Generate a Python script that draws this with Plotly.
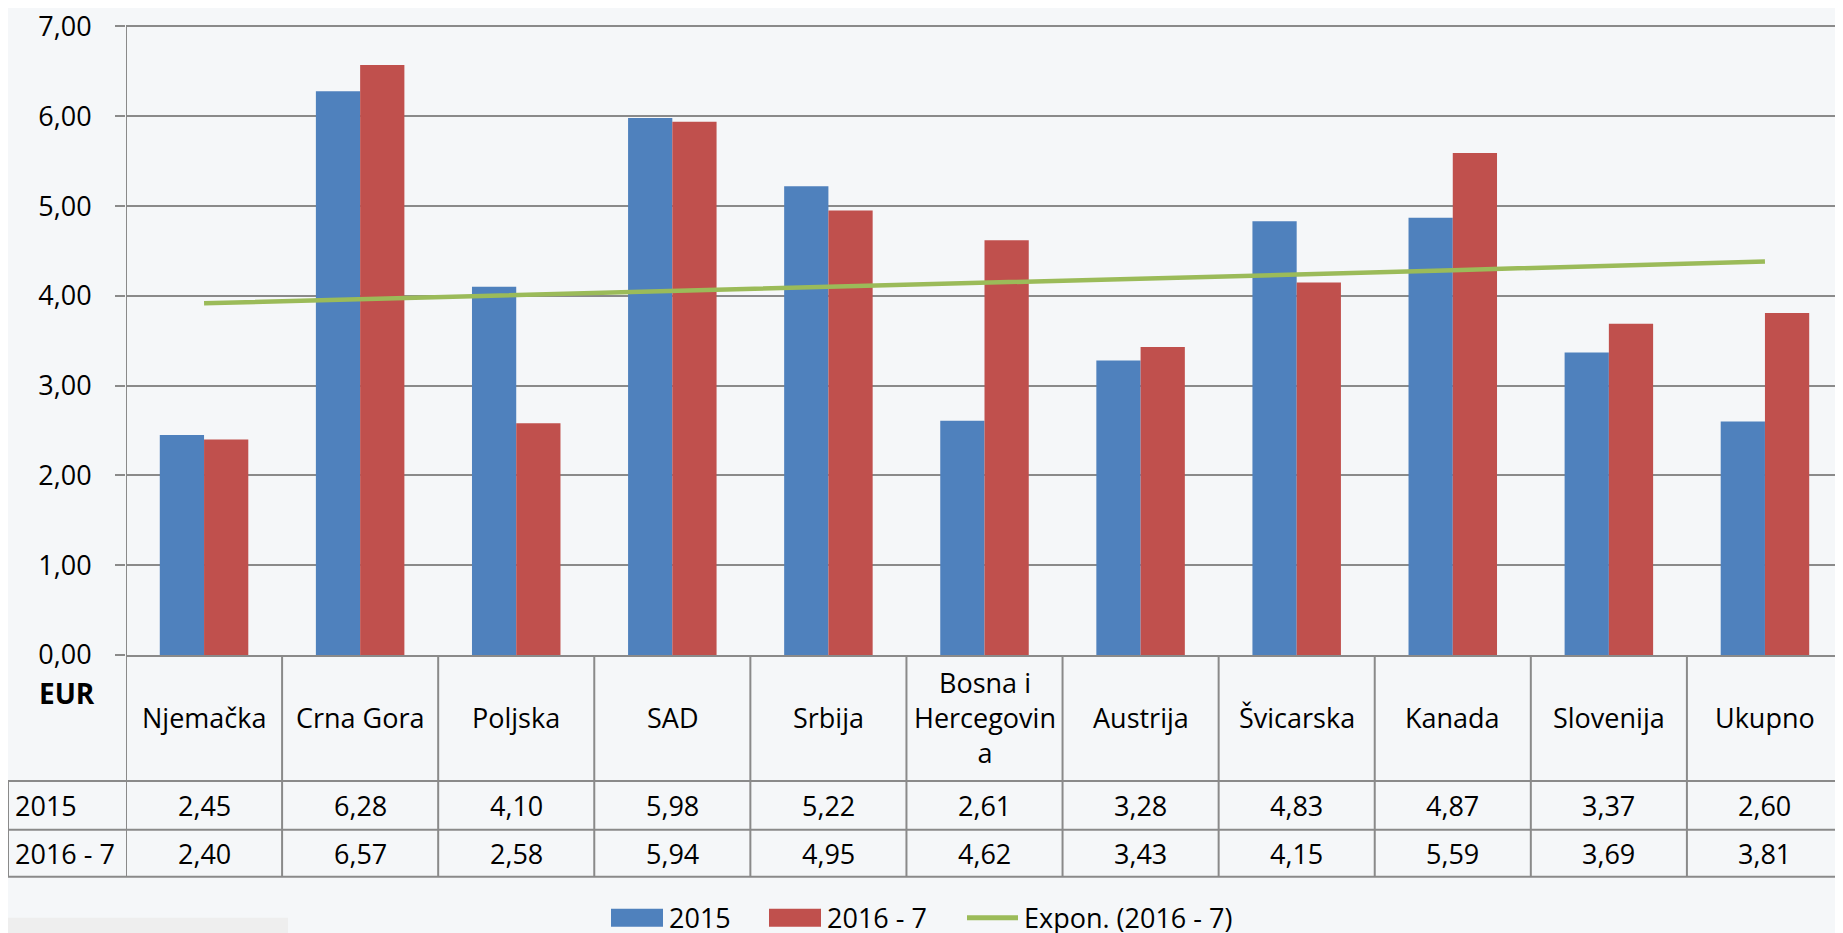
# Prosječna cijena po kategorijama - stupci s tablicom podataka ispod osi
import numpy as np
import plotly.graph_objects as go

W, H = 1843, 933
PAGE_OFFSET = 8          # default body margin of the html page
Y_MAX = 7
HEADROOM = 0.05          # a little room above 7,00 so its gridline is drawn
LEFT, RIGHT, GRID_TOP, ZERO_Y = 126, 1843, 26, 655   # screen pixels
TOP = GRID_TOP - HEADROOM * (ZERO_Y - GRID_TOP) / Y_MAX

categories = ["Njemačka", "Crna Gora", "Poljska", "SAD", "Srbija",
              "Bosna i Hercegovina", "Austrija", "Švicarska", "Kanada",
              "Slovenija", "Ukupno"]
header_labels = ["Njemačka", "Crna Gora", "Poljska", "SAD", "Srbija",
                 "Bosna i<br>Hercegovin<br>a", "Austrija", "Švicarska", "Kanada",
                 "Slovenija", "Ukupno"]
series_names = ["2015", "2016 - 7"]
trend_name = "Expon. (2016 - 7)"
values_2015 = [2.45, 6.28, 4.10, 5.98, 5.22, 2.61, 3.28, 4.83, 4.87, 3.37, 2.60]
values_2016_7 = [2.40, 6.57, 2.58, 5.94, 4.95, 4.62, 3.43, 4.15, 5.59, 3.69, 3.81]
y_ticks = [0, 1, 2, 3, 4, 5, 6, 7]

BLUE = "#4F81BD"
RED = "#C0504D"
GREEN = "#9BBB59"
GRID = "#8a8a8a"
FONT = "Open Sans, Noto Sans, sans-serif"


def px_x(sx):
    """screen pixel -> paper x"""
    return (sx - LEFT) / (RIGHT - LEFT)


def px_y(sy):
    """screen pixel -> paper y"""
    return (ZERO_Y - sy) / (ZERO_Y - TOP)


def fmt(v):
    return f"{v:.2f}".replace(".", ",")


# Excel-style exponential trendline on the 2016 - 7 series
idx = np.arange(1, len(values_2016_7) + 1)
b, a = np.polyfit(idx, np.log(values_2016_7), 1)
trend = np.exp(a + b * idx)

fig = go.Figure()
fig.add_trace(go.Bar(x=categories, y=values_2015, name=series_names[0],
                     marker=dict(color=BLUE, line=dict(width=0))))
fig.add_trace(go.Bar(x=categories, y=values_2016_7, name=series_names[1],
                     marker=dict(color=RED, line=dict(width=0))))
fig.add_trace(go.Scatter(x=categories, y=trend, mode="lines", name=trend_name,
                         line=dict(color=GREEN, width=4.5)))

# table grid
row1_top, row2_top, table_bottom = 781, 830, 877
shapes = []
line = dict(color=GRID, width=2)
for sy in (row1_top, row2_top, table_bottom):
    shapes.append(dict(type="line", xref="paper", yref="paper",
                       x0=px_x(8), x1=1, y0=px_y(sy), y1=px_y(sy), line=line))
shapes.append(dict(type="line", xref="paper", yref="paper",
                   x0=px_x(8), x1=px_x(8), y0=px_y(row1_top), y1=px_y(table_bottom), line=line))
for i in range(len(categories)):
    x_edge = i - 0.5
    shapes.append(dict(type="line", xref="x", yref="paper",
                       x0=x_edge, x1=x_edge, y0=px_y(GRID_TOP) if i == 0 else 0,
                       y1=px_y(table_bottom), line=line))
# grey strip in the lower-left corner
shapes.append(dict(type="rect", xref="paper", yref="paper", layer="below",
                   x0=px_x(0), x1=px_x(288), y0=px_y(918), y1=px_y(945),
                   fillcolor="#eeeeee", line=dict(width=0)))

annotations = []
txt = dict(family=FONT, size=27, color="#000")
for i, lab in enumerate(header_labels):
    annotations.append(dict(x=i, y=px_y((ZERO_Y + row1_top) / 2), xref="x", yref="paper",
                            text=lab, showarrow=False, font=txt,
                            xanchor="center", yanchor="middle"))
    annotations.append(dict(x=i, y=px_y((row1_top + row2_top) / 2), xref="x", yref="paper",
                            text=fmt(values_2015[i]), showarrow=False, font=txt,
                            xanchor="center", yanchor="middle"))
    annotations.append(dict(x=i, y=px_y((row2_top + table_bottom) / 2), xref="x", yref="paper",
                            text=fmt(values_2016_7[i]), showarrow=False, font=txt,
                            xanchor="center", yanchor="middle"))
for name, top, bot in ((series_names[0], row1_top, row2_top),
                       (series_names[1], row2_top, table_bottom)):
    annotations.append(dict(x=px_x(13), y=px_y((top + bot) / 2), xref="paper", yref="paper",
                            text=name, showarrow=False, font=txt,
                            xanchor="left", yanchor="middle"))
annotations.append(dict(x=px_x(67), y=px_y(693), xref="paper", yref="paper",
                        text="<b>EUR</b>", showarrow=False,
                        font=dict(family=FONT, size=28, color="#000"),
                        xanchor="center", yanchor="middle"))

# legend drawn by hand (Excel-style wide swatches)
leg_y = 918
for x0, color, label in ((611, BLUE, series_names[0]), (769, RED, series_names[1])):
    shapes.append(dict(type="rect", xref="paper", yref="paper",
                       x0=px_x(x0), x1=px_x(x0 + 52), y0=px_y(leg_y - 9), y1=px_y(leg_y + 9),
                       fillcolor=color, line=dict(width=0)))
    annotations.append(dict(x=px_x(x0 + 56), y=px_y(leg_y), xref="paper", yref="paper",
                            text=label, showarrow=False, font=txt,
                            xanchor="left", yanchor="middle"))
shapes.append(dict(type="line", xref="paper", yref="paper",
                   x0=px_x(967), x1=px_x(1018), y0=px_y(leg_y), y1=px_y(leg_y),
                   line=dict(color=GREEN, width=5)))
annotations.append(dict(x=px_x(1022), y=px_y(leg_y), xref="paper", yref="paper",
                        text=trend_name, showarrow=False, font=txt,
                        xanchor="left", yanchor="middle"))

fig.update_layout(
    width=W, height=H,
    margin=dict(l=LEFT - PAGE_OFFSET, r=W + PAGE_OFFSET - RIGHT,
                t=TOP - PAGE_OFFSET, b=H + PAGE_OFFSET - ZERO_Y),
    paper_bgcolor="#f5f7f9",
    plot_bgcolor="rgba(0,0,0,0)",
    font=dict(family=FONT, size=27, color="#000"),
    separators=", ",
    barmode="group",
    bargap=0.433,
    bargroupgap=0,
    showlegend=False,
    shapes=shapes,
    annotations=annotations,
)
fig.update_xaxes(showticklabels=False, showgrid=False, ticks="", automargin=False,
                 range=[-0.5, len(categories) - 0.5], zeroline=False,
                 showline=True, linecolor=GRID, linewidth=2)
fig.update_yaxes(range=[0, Y_MAX + HEADROOM], tickvals=y_ticks, tickformat=".2f",
                 automargin=False,
                 showgrid=True, gridcolor=GRID, gridwidth=2,
                 zeroline=False, showline=False,
                 ticks="outside", ticklen=10, tickcolor=GRID, tickwidth=2,
                 ticklabelstandoff=18, ticklabeloverflow="allow",
                 tickfont=dict(family=FONT, size=27, color="#000"))

fig.write_html("out.html")
